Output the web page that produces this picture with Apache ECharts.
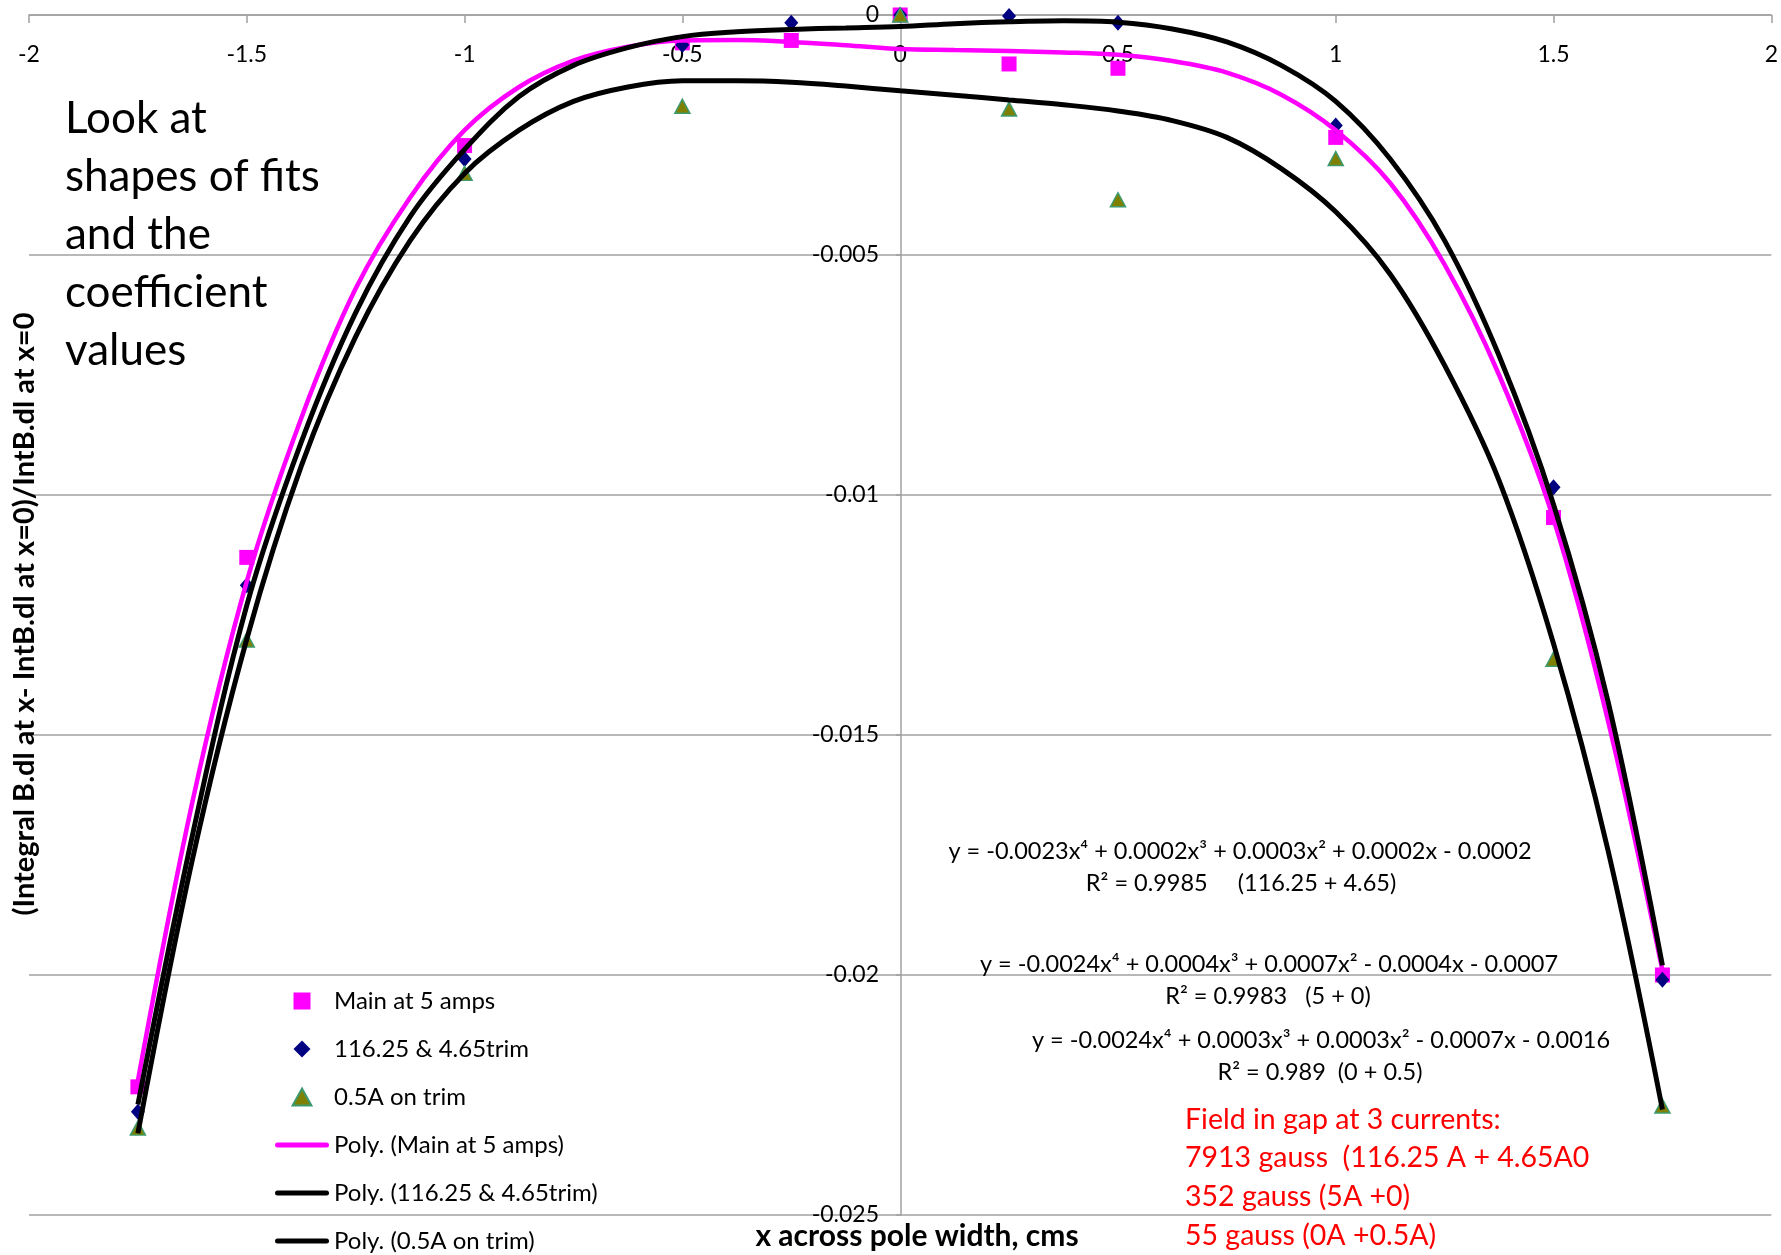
<!DOCTYPE html>
<html>
<head>
<meta charset="utf-8">
<script src="https://cdn.jsdelivr.net/npm/echarts@6/dist/echarts.min.js"></script>
<style>
  html, body { margin: 0; padding: 0; background: #ffffff; }
  #chart { width: 1781px; height: 1255px; }
</style>
</head>
<body>
<div id="chart"></div>
<script>
// Measured points: x position across the pole (cm) and relative field integral difference
const mainX = [-1.75, -1.5, -1, -0.5, -0.25, 0, 0.25, 0.5, 1, 1.5, 1.75];
const mainY = [-0.02233, -0.0113, -0.00272, -0.00058, -0.00053, 0, -0.00102, -0.00111, -0.00255, -0.01047, -0.0200];

const trimX = [-1.75, -1.5, -1, -0.5, -0.25, 0, 0.25, 0.5, 1, 1.5, 1.75];
const trimY = [-0.02285, -0.01188, -0.0030, -0.000625, -0.00016, 0, -0.00002, -0.00016, -0.0023, -0.00984, -0.0201];

const lowX = [-1.75, -1.5, -1, -0.5, 0, 0.25, 0.5, 1, 1.5, 1.75];
const lowY = [-0.02319, -0.01302, -0.0033, -0.0019, 0, -0.00196, -0.00385, -0.00299, -0.01342, -0.02273];

// 4th-order polynomial trendlines, sampled along x
const fitX = [-1.75, -1.625, -1.5, -1.375, -1.25, -1.125, -1, -0.875, -0.75, -0.625, -0.5, -0.375, -0.25, -0.125,
              0, 0.125, 0.25, 0.375, 0.5, 0.625, 0.75, 0.875, 1, 1.125, 1.25, 1.375, 1.5, 1.625, 1.75];
const fitMain = [-0.0222, -0.0164, -0.0118, -0.0084, -0.0057, -0.0038, -0.0024, -0.0015, -0.00095, -0.00066, -0.00053, -0.00052, -0.00056, -0.00063,
                 -0.00071, -0.00073, -0.00075, -0.00078, -0.00083, -0.00096, -0.0012, -0.00166, -0.0024, -0.0035, -0.0052, -0.0075, -0.0105, -0.0147, -0.0199];
const fitTrim = [-0.0227, -0.0171, -0.0123, -0.0089, -0.0062, -0.0042, -0.0028, -0.0017, -0.00105, -0.00068, -0.00045, -0.00035, -0.0003, -0.00027,
                 -0.00024, -0.00018, -0.00014, -0.00012, -0.00015, -0.00029, -0.00056, -0.00105, -0.0018, -0.003, -0.0047, -0.0071, -0.0102, -0.0143, -0.0198];
const fitLow = [-0.0233, -0.0176, -0.0130, -0.0094, -0.0067, -0.0047, -0.0033, -0.0024, -0.0018, -0.0015, -0.00137, -0.00137, -0.0014, -0.00148,
                -0.00158, -0.00167, -0.00177, -0.00187, -0.0020, -0.0022, -0.00255, -0.0032, -0.0041, -0.0054, -0.0073, -0.0097, -0.0131, -0.0174, -0.0228];

const seriesNames = ['Main at 5 amps', '116.25 & 4.65trim', '0.5A on trim'];
const fitNames = ['Poly. (Main at 5 amps)', 'Poly. (116.25 & 4.65trim)', 'Poly. (0.5A on trim)'];

const noteLines = ['Look at', 'shapes of fits', 'and the', 'coefficient', 'values'];
const equations = [
  'y = -0.0023x⁴ + 0.0002x³ + 0.0003x² + 0.0002x - 0.0002',
  'R² = 0.9985     (116.25 + 4.65)',
  'y = -0.0024x⁴ + 0.0004x³ + 0.0007x² - 0.0004x - 0.0007',
  'R² = 0.9983   (5 + 0)',
  'y = -0.0024x⁴ + 0.0003x³ + 0.0003x² - 0.0007x - 0.0016',
  'R² = 0.989  (0 + 0.5)'
];
const fieldLines = ['Field in gap at 3 currents:', '7913 gauss  (116.25 A + 4.65A0', '352 gauss (5A +0)', '55 gauss (0A +0.5A)'];
const xTitle = 'x across pole width, cms';
const yTitle = '(Integral B.dl at x- IntB.dl at x=0)/IntB.dl at x=0';

const pairs = (xs, ys) => xs.map((x, i) => [x, ys[i]]);

const FONT = 'Lato, "Open Sans", sans-serif';
const GRID_GREY = '#a0a0a0';
const GRID_LEFT = 29, GRID_RIGHT = 8, GRID_TOP = 15, GRID_BOTTOM = 40;
const CHART_W = 1781;
// horizontal pixel of x = 0, where the value axis sits
const ZERO_X = GRID_LEFT + (CHART_W - GRID_LEFT - GRID_RIGHT) / 2;

const eqPos = [[1240, 851], [1241, 883], [1269, 964], [1268, 996], [1321, 1040], [1320, 1072]];

const graphics = [
  {
    type: 'text', left: 65, top: 90, z: 10,
    style: { text: noteLines.join('\n'), font: '44px ' + FONT, lineHeight: 58, fill: '#000' }
  },
  {
    type: 'text', left: 1185, top: 1100, z: 10,
    style: { text: fieldLines.join('\n'), font: '28.5px ' + FONT, lineHeight: 38.7, fill: '#ff0000' }
  },
  {
    type: 'text', z: 10,
    style: { x: 917, y: 1236, text: xTitle, font: 'bold 30px ' + FONT, fill: '#000',
             textAlign: 'center', textVerticalAlign: 'middle' }
  },
  {
    type: 'text', z: 10, x: 25, y: 614, rotation: Math.PI / 2,
    style: { x: 0, y: 0, text: yTitle, font: 'bold 29px ' + FONT, fill: '#000',
             textAlign: 'center', textVerticalAlign: 'middle' }
  }
].concat(equations.map((t, i) => ({
  type: 'text', z: 10,
  style: { x: eqPos[i][0], y: eqPos[i][1], text: t, font: '23.5px ' + FONT, fill: '#000',
           textAlign: 'center', textVerticalAlign: 'middle' }
})));

// legend swatch for the trendlines: a short bar with rounded ends
const lineIcon = 'path://M2.5,0 L51.5,0 A2.5,2.5 0 0 1 51.5,5 L2.5,5 A2.5,2.5 0 0 1 2.5,0 Z';

const option = {
  animation: false,
  backgroundColor: '#ffffff',
  grid: { left: GRID_LEFT, right: GRID_RIGHT, top: GRID_TOP, bottom: GRID_BOTTOM, containLabel: false },
  xAxis: {
    type: 'value', min: -2, max: 2, interval: 0.5, position: 'top',
    axisLine: { onZero: false, lineStyle: { color: GRID_GREY, width: 1.5 } },
    axisTick: { show: true, inside: true, length: 8, lineStyle: { color: GRID_GREY, width: 1.5 } },
    axisLabel: { inside: true, fontFamily: FONT, fontSize: 23, color: '#000', margin: 28 },
    splitLine: { show: false }
  },
  yAxis: {
    type: 'value', min: -0.025, max: 0, interval: 0.005, position: 'left',
    offset: -(ZERO_X - GRID_LEFT),
    axisLine: { onZero: false, lineStyle: { color: GRID_GREY, width: 1.5 } },
    axisTick: { show: true, length: 5, lineStyle: { color: GRID_GREY, width: 1.5 } },
    axisLabel: { fontFamily: FONT, fontSize: 23, color: '#000', margin: 22 },
    splitLine: { show: true, lineStyle: { color: GRID_GREY, width: 1.5 } }
  },
  legend: {
    orient: 'vertical', left: 275, bottom: 2, padding: 0,
    itemWidth: 54, itemHeight: 17, itemGap: 24,
    symbolKeepAspect: true,
    textStyle: { fontFamily: FONT, fontSize: 24, lineHeight: 22, color: '#000' },
    data: [
      { name: seriesNames[0], icon: 'path://M0,0 L10,0 L10,10 L0,10 Z' },
      { name: seriesNames[1], icon: 'path://M5,0 L10,5 L5,10 L0,5 Z' },
      { name: seriesNames[2], icon: 'path://M5,0 L10,9 L0,9 Z' },
      { name: fitNames[0], icon: lineIcon },
      { name: fitNames[1], icon: lineIcon },
      { name: fitNames[2], icon: lineIcon }
    ]
  },
  series: [
    {
      name: seriesNames[0], type: 'scatter', symbol: 'rect', symbolSize: 15,
      itemStyle: { color: '#ff00ff', opacity: 1 }, data: pairs(mainX, mainY), z: 3
    },
    {
      name: seriesNames[1], type: 'scatter', symbol: 'diamond', symbolSize: [14, 16],
      itemStyle: { color: '#000080', opacity: 1 }, data: pairs(trimX, trimY), z: 3
    },
    {
      name: seriesNames[2], type: 'scatter', symbol: 'triangle', symbolSize: [15, 14],
      itemStyle: { color: '#808000', borderColor: '#3c9a6e', borderWidth: 1.5, opacity: 1 },
      data: pairs(lowX, lowY), z: 3
    },
    {
      name: fitNames[0], type: 'line', smooth: 0.35, symbol: 'none', showSymbol: false,
      lineStyle: { color: '#ff00ff', width: 4.5 }, itemStyle: { color: '#ff00ff' },
      data: pairs(fitX, fitMain), z: 4
    },
    {
      name: fitNames[1], type: 'line', smooth: 0.35, symbol: 'none', showSymbol: false,
      lineStyle: { color: '#000000', width: 5 }, itemStyle: { color: '#000000' },
      data: pairs(fitX, fitTrim), z: 5
    },
    {
      name: fitNames[2], type: 'line', smooth: 0.35, symbol: 'none', showSymbol: false,
      lineStyle: { color: '#000000', width: 5 }, itemStyle: { color: '#000000' },
      data: pairs(fitX, fitLow), z: 5
    }
  ],
  graphic: graphics
};

const chart = echarts.init(document.getElementById('chart'), null, { renderer: 'canvas' });
chart.setOption(option);
</script>
</body>
</html>
